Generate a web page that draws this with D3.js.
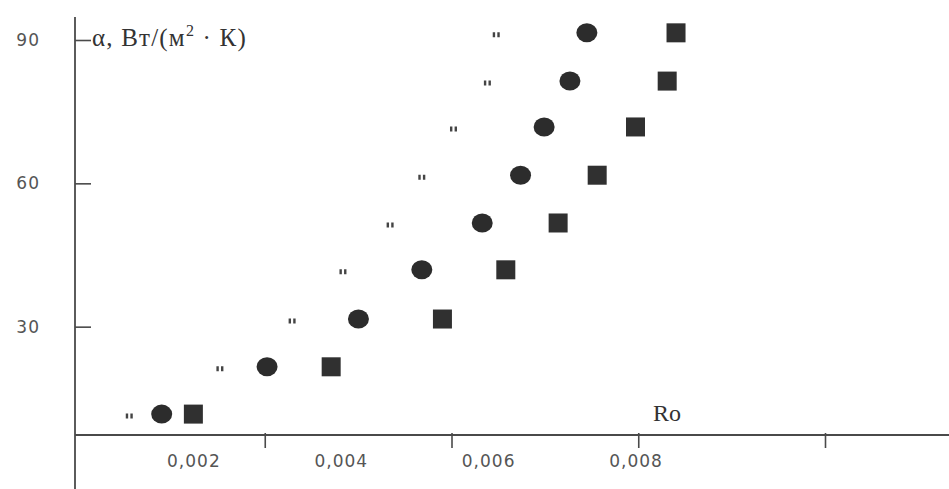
<!DOCTYPE html>
<html>
<head>
<meta charset="utf-8">
<script src="https://cdn.jsdelivr.net/npm/d3@7"></script>
<style>
  html, body { margin: 0; padding: 0; background: #ffffff; }
  svg { display: block; }
</style>
</head>
<body>
<svg id="chart" width="949" height="489"></svg>
<script>
// ---- data ----
const alpha = [11.7, 21.6, 31.6, 41.9, 51.7, 61.7, 71.8, 81.4, 91.5];
const roSquare = [0.00200, 0.00387, 0.00538, 0.00624, 0.00695, 0.00748, 0.00800, 0.00843, 0.00855];
const roCircle = [0.00157, 0.00300, 0.00424, 0.00510, 0.00592, 0.00644, 0.00676, 0.00711, 0.00734];
const roMark   = [0.00113, 0.00236, 0.00334, 0.00403, 0.00467, 0.00510, 0.00553, 0.00599, 0.00611];
const xTicks = [0.002, 0.004, 0.006, 0.008];
const yTicks = [30, 60, 90];
const yTitle = ["α, Вт/(м", "2", " · К)"];
const xTitle = "Ro";

// ---- layout ----
const svg = d3.select("#chart");
const axisX0 = 75, axisY0 = 435;
const x = d3.scaleLinear().domain([0, 0.008]).range([46, 635.5]);      // label / data scale
const xMark = d3.scaleLinear().domain([0, 0.008]).range([78, 825]);    // tick-mark positions in the scan
const y = d3.scaleLinear().domain([0, 90]).range([470, 40]);

const axisColor = "#4a4a4a";
const locale = d3.formatLocale({decimal: ",", thousands: " ", grouping: [3], currency: ["", ""]});
const fmt = locale.format(".3f");

// axis lines
svg.append("line").attr("x1", axisX0).attr("x2", 949).attr("y1", axisY0).attr("y2", axisY0)
  .attr("stroke", axisColor).attr("stroke-width", 1.8);
svg.append("line").attr("x1", axisX0).attr("x2", axisX0).attr("y1", 17).attr("y2", 489)
  .attr("stroke", axisColor).attr("stroke-width", 1.8);

// x tick marks
const gxm = svg.append("g").attr("transform", `translate(0,${axisY0})`)
  .call(d3.axisBottom(xMark).tickValues(xTicks).tickSize(13).tickFormat(""));
gxm.select(".domain").remove();
gxm.selectAll(".tick line").attr("stroke", axisColor).attr("stroke-width", 1.6).attr("y1", -2);

// x tick labels
const gx = svg.append("g").attr("transform", `translate(0,${axisY0})`)
  .call(d3.axisBottom(x).tickValues(xTicks).tickSize(0).tickPadding(20).tickFormat(fmt));
gx.select(".domain").remove();
gx.selectAll(".tick text")
  .attr("font-family", "DejaVu Sans, sans-serif").attr("font-size", 17)
  .attr("letter-spacing", 1).attr("fill", "#555");

// y axis ticks + labels
const gy = svg.append("g").attr("transform", `translate(${axisX0},0)`)
  .call(d3.axisLeft(y).tickValues(yTicks).tickSizeInner(-16).tickSizeOuter(0).tickPadding(35));
gy.select(".domain").remove();
gy.selectAll(".tick line").attr("stroke", axisColor).attr("stroke-width", 1.6);
gy.selectAll(".tick text")
  .attr("font-family", "DejaVu Sans, sans-serif").attr("font-size", 17)
  .attr("letter-spacing", 1).attr("fill", "#555");

// y title
const t = svg.append("text").attr("x", 92).attr("y", y(90) - 2).attr("dy", "0.33em")
  .attr("font-family", "Liberation Serif, serif").attr("font-size", 25)
  .attr("letter-spacing", 1.2).attr("fill", "#333");
t.append("tspan").text(yTitle[0]);
t.append("tspan").attr("dy", -10).attr("font-size", 16).text(yTitle[1]);
t.append("tspan").attr("dy", 10).text(yTitle[2]);

// x title
svg.append("text").attr("x", 667).attr("y", 421).attr("text-anchor", "middle")
  .attr("font-family", "Liberation Serif, serif").attr("font-size", 24).attr("fill", "#333")
  .text(xTitle);

// series: small double tick marks
const dblTick = {
  draw(ctx, size) {
    const h = 5, w = 2.4, g = 2.2;
    ctx.moveTo(-g / 2 - w, -h / 2); ctx.lineTo(-g / 2, -h / 2); ctx.lineTo(-g / 2, h / 2); ctx.lineTo(-g / 2 - w, h / 2); ctx.closePath();
    ctx.moveTo(g / 2, -h / 2); ctx.lineTo(g / 2 + w, -h / 2); ctx.lineTo(g / 2 + w, h / 2); ctx.lineTo(g / 2, h / 2); ctx.closePath();
  }
};
svg.append("g").selectAll("path").data(roMark.map((r, i) => [r, alpha[i]])).join("path")
  .attr("transform", d => `translate(${x(d[0])},${y(d[1]) + 2})`)
  .attr("d", d3.symbol().type(dblTick).size(30))
  .attr("fill", "#444");

// series: circles
svg.append("g").selectAll("ellipse").data(roCircle.map((r, i) => [r, alpha[i]])).join("ellipse")
  .attr("cx", d => x(d[0])).attr("cy", d => y(d[1]))
  .attr("rx", 10.5).attr("ry", 9.5)
  .attr("fill", "#2c2c2c");

// series: squares
const sq = 19;
svg.append("g").selectAll("rect").data(roSquare.map((r, i) => [r, alpha[i]])).join("rect")
  .attr("x", d => x(d[0]) - sq / 2).attr("y", d => y(d[1]) - sq / 2)
  .attr("width", sq).attr("height", sq)
  .attr("fill", "#303030");
</script>
</body>
</html>
